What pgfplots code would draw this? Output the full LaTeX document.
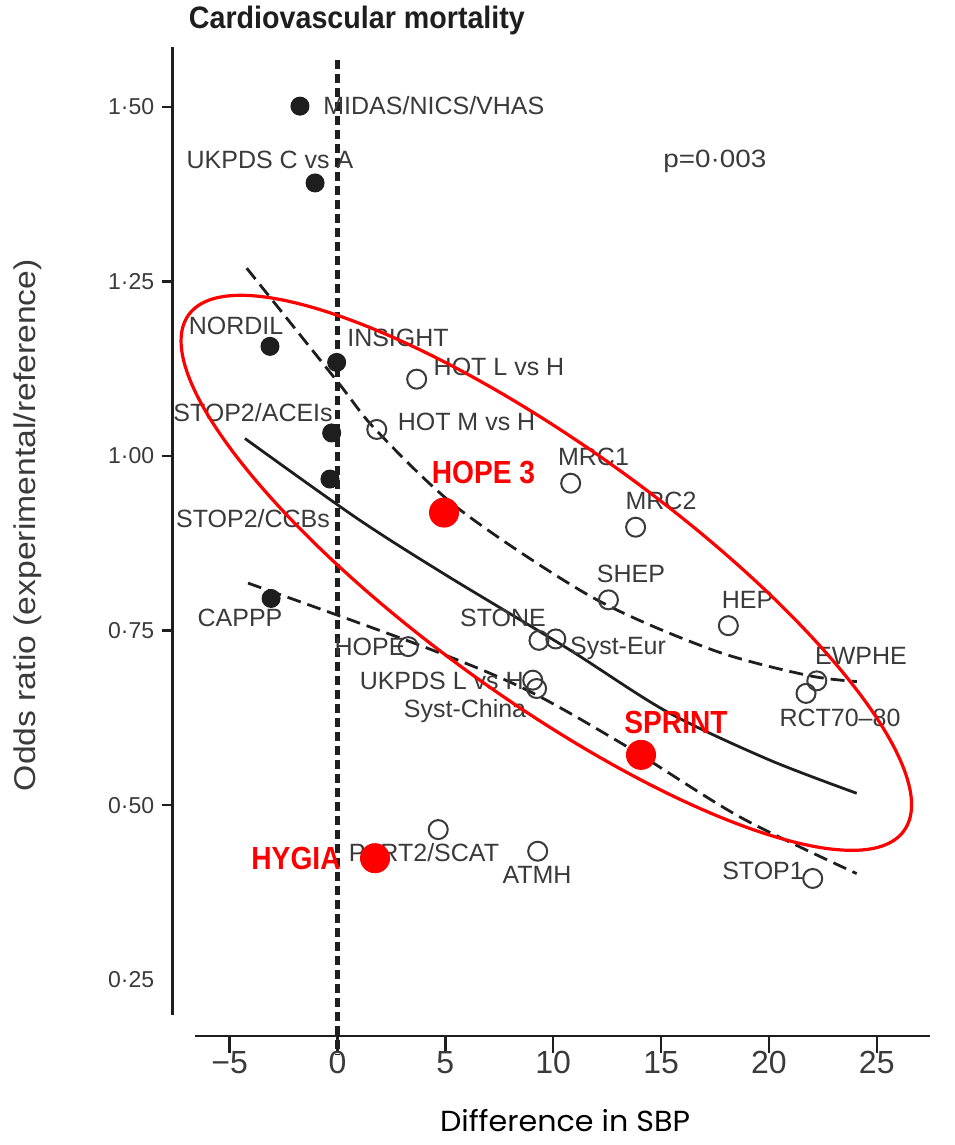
\documentclass[border=0pt]{standalone}
\usepackage{fontspec}
\setmainfont{Liberation Sans}
\newfontfamily\redfont[FakeStretch=0.88]{Liberation Sans}
\newfontfamily\gothic{Poppins}
\usepackage{graphicx}
\usepackage{pgfplots}
\pgfplotsset{compat=1.18}
\definecolor{txt}{HTML}{3A3A3A}
\definecolor{ink}{HTML}{1E1E1E}
\definecolor{red1}{HTML}{FF0000}
\tikzset{
  lab/.style={font=\fontsize{12.5}{14}\selectfont, text=txt, inner sep=0pt, text height=9pt, text depth=0pt},
  rlab/.style={font=\fontsize{16}{18}\redfont\bfseries, text=red1, inner sep=0pt, text height=11.5pt, text depth=0pt},
}
\begin{document}
\begin{tikzpicture}
\begin{axis}[
  x=10.785pt, y=349.15pt,
  xmin=-7.64, xmax=27.47, ymin=0.1694, ymax=1.586,
  axis lines=left, axis line style={draw=none},
  clip=false, tick align=outside,
  xtick={-5,0,5,10,15,20,25},
  xticklabels={−5,0,5,10,15,20,25},
  ytick={0.5,0.75,1,1.25,1.5},
  yticklabels={0·50,0·75,1·00,1·25,1·50},
  extra y ticks={0.25}, extra y tick labels={0·25},
  extra y tick style={tick style={draw=none}},
  xtick style={ink, line width=1.2pt, /pgfplots/major tick length=8.5pt},
  ytick style={ink, line width=1.2pt, /pgfplots/major tick length=5.5pt},
  xticklabel style={font=\fontsize{16}{18}\selectfont, text=txt},
  yticklabel style={font=\fontsize{11.5}{13}\selectfont, text=txt, xshift=-1.5pt},
]
% axis lines
\draw[ink, line width=1.4pt] (axis cs:-7.64,0.1995) -- (axis cs:-7.64,1.586);
\draw[ink, line width=1.4pt] (axis cs:-6.61,0.1694) -- (axis cs:27.47,0.1694);
% reference line at 0
\addplot[ink, line width=2.2pt, dash pattern=on 4.5pt off 2.5pt] coordinates {(0,1.567) (0,0.142)};
% regression line and confidence bands
\addplot[ink, line width=1.4pt, smooth] coordinates {(-4.29,1.025) (0.89,0.911) (5,0.830) (10.63,0.725) (15.26,0.634) (20,0.565) (24.07,0.517)};
\addplot[ink, line width=1.4pt, smooth, dash pattern=on 7pt off 3.5pt] coordinates {(-4.21,1.269) (-0.04,1.108) (1.82,1.036) (5.68,0.923) (11.85,0.797) (17.41,0.722) (21.77,0.686) (24.08,0.677)};
\addplot[ink, line width=1.4pt, smooth, dash pattern=on 7pt off 3.5pt] coordinates {(-4.15,0.818) (3.98,0.727) (8.77,0.665) (13.41,0.584) (18.66,0.483) (24.07,0.402)};
% filled: active vs active
\addplot[only marks, mark=*, mark size=4.5pt, mark options={fill=ink, draw=ink, line width=0.5pt}] coordinates {
 (-1.74,1.501) (-1.04,1.391) (-3.13,1.157) (-0.04,1.134) (-0.27,1.033) (-0.35,0.967) (-3.08,0.796)};
% open: active vs placebo / more vs less
\addplot[only marks, mark=o, mark size=4.75pt, mark options={draw=txt, line width=1pt}] coordinates {
 (3.67,1.110) (1.82,1.038) (10.81,0.961) (13.82,0.898) (12.56,0.794) (18.12,0.757)
 (9.34,0.736) (10.12,0.738) (3.28,0.727) (9.05,0.679) (9.23,0.667) (22.22,0.678)
 (21.72,0.660) (4.67,0.465) (9.28,0.434) (22.03,0.395)};
% labels
\node[lab, anchor=west] at (axis cs:-0.672,1.5012) {MIDAS/NICS/VHAS};
\node[lab] at (axis cs:-3.129,1.4239) {UKPDS C vs A};
\node[lab] at (axis cs:17.498,1.4267) {\resizebox{51.5pt}{\height}{p=0·003}};
\node[lab] at (axis cs:-4.706,1.1862) {NORDIL};
\node[lab] at (axis cs:2.805,1.1690) {INSIGHT};
\node[lab] at (axis cs:7.487,1.1275) {HOT L vs H};
\node[lab] at (axis cs:-3.917,1.0616) {STOP2/ACEIs};
\node[lab] at (axis cs:5.981,1.0487) {HOT M vs H};
\node[lab] at (axis cs:11.868,0.9986) {MRC1};
\node[lab] at (axis cs:14.998,0.9356) {MRC2};
\node[lab] at (axis cs:-3.917,0.9112) {STOP2/CCBs};
\node[lab] at (axis cs:13.607,0.8324) {SHEP};
\node[lab] at (axis cs:19.008,0.7938) {HEP};
\node[lab] at (axis cs:-4.520,0.7694) {CAPPP};
\node[lab] at (axis cs:7.673,0.7694) {STONE};
\node[lab] at (axis cs:13.004,0.7293) {Syst-Eur};
\node[lab] at (axis cs:1.507,0.7279) {HOPE};
\node[lab] at (axis cs:4.831,0.6792) {UKPDS L vs H};
\node[lab] at (axis cs:5.911,0.6391) {Syst-China};
\node[lab] at (axis cs:24.270,0.7136) {EWPHE};
\node[lab] at (axis cs:23.296,0.6262) {RCT70–80};
\node[lab] at (axis cs:4.010,0.4315) {PART2/SCAT};
\node[lab] at (axis cs:9.249,0.4000) {ATMH};
\node[lab] at (axis cs:19.727,0.4071) {STOP1};
% red ellipse
\draw[red1, line width=1.6pt, rotate around={-35.8:(axis cs:9.68,0.8327)}] (axis cs:9.68,0.8327) ellipse [x radius=220.5pt, y radius=63pt];
% new trials
\addplot[only marks, mark=*, mark size=7.3pt, mark options={fill=red1, draw=red1, line width=0.4pt}] coordinates {
 (4.94,0.919) (14.07,0.572) (1.74,0.424)};
\node[rlab] at (axis cs:6.769,0.9771) {HOPE 3};
\node[rlab] at (axis cs:15.693,0.6191) {SPRINT};
\node[rlab] at (axis cs:-1.924,0.4243) {HYGIA};
% title and axis titles
\node[inner sep=0pt, text=ink] at (axis cs:0.90,1.6236) {\resizebox{168pt}{\height}{\fontsize{15.5}{17}\selectfont\bfseries Cardiovascular mortality}};
\node[inner sep=0pt, text=txt, rotate=90] at (axis cs:-14.35,0.901) {\resizebox{266pt}{\height}{\fontsize{15}{17}\selectfont Odds ratio (experimental/reference)}};
\node[inner sep=0pt, text=black] at (axis cs:10.55,0.0478) {\resizebox{125pt}{\height}{\fontsize{14.5}{16}\gothic Difference in SBP}};
\coordinate (BL) at (axis cs:-15.647,0.01332);
\coordinate (TR) at (axis cs:28.582,1.6530);
\end{axis}
\pgfresetboundingbox
\path[use as bounding box] (BL) rectangle (TR);
\end{tikzpicture}
\end{document}
